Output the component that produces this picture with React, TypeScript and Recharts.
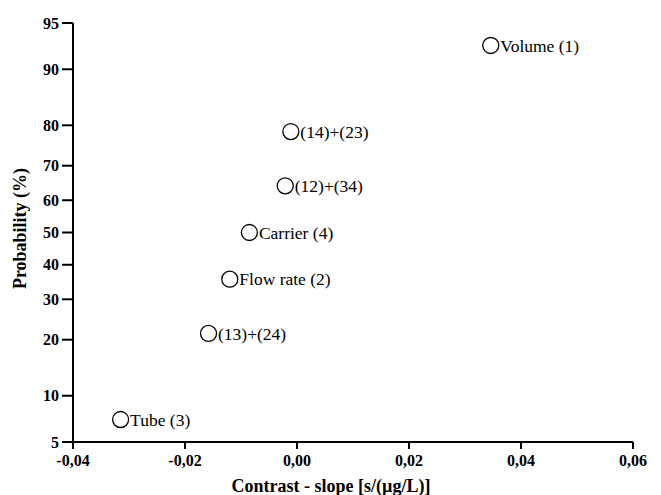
import { ScatterChart, Scatter, XAxis, YAxis, Label } from "recharts";

const effectLabels = ["Tube (3)", "(13)+(24)", "Flow rate (2)", "Carrier (4)", "(12)+(34)", "(14)+(23)", "Volume (1)"];
const effectValues = [-0.0315, -0.0158, -0.012, -0.0085, -0.0021, -0.0011, 0.0346];
const probabilities = [7.1, 21.4, 35.7, 50, 64.3, 78.6, 92.9];

const xTicks = [-0.04, -0.02, 0, 0.02, 0.04, 0.06];
const yTickLabels = [5, 10, 20, 30, 40, 50, 60, 70, 80, 90, 95];

// inverse normal cdf (Acklam) so the y axis reads as a normal probability scale
const probit = (pct: number) => {
  const p = pct / 100;
  const a = [-39.69683028665376, 220.9460984245205, -275.9285104469687, 138.357751867269, -30.66479806614716, 2.506628277459239];
  const b = [-54.47609879822406, 161.5858368580409, -155.6989798598866, 66.80131188771972, -13.28068155288572];
  const c = [-0.007784894002430293, -0.3223964580411365, -2.400758277161838, -2.549732539343734, 4.374664141464968, 2.938163982698783];
  const d = [0.007784695709041462, 0.3224671290700398, 2.445134137142996, 3.754408661907416];
  const pLow = 0.02425;
  if (p < pLow) {
    const q = Math.sqrt(-2 * Math.log(p));
    return (((((c[0] * q + c[1]) * q + c[2]) * q + c[3]) * q + c[4]) * q + c[5]) / ((((d[0] * q + d[1]) * q + d[2]) * q + d[3]) * q + 1);
  }
  if (p > 1 - pLow) {
    const q = Math.sqrt(-2 * Math.log(1 - p));
    return -(((((c[0] * q + c[1]) * q + c[2]) * q + c[3]) * q + c[4]) * q + c[5]) / ((((d[0] * q + d[1]) * q + d[2]) * q + d[3]) * q + 1);
  }
  const q = p - 0.5;
  const r = q * q;
  return ((((((a[0] * r + a[1]) * r + a[2]) * r + a[3]) * r + a[4]) * r + a[5]) * q) / (((((b[0] * r + b[1]) * r + b[2]) * r + b[3]) * r + b[4]) * r + 1);
};

const data = effectValues.map((x, i) => ({ x, y: probit(probabilities[i]), label: effectLabels[i] }));
const yTicks = yTickLabels.map(probit);

const FONT = "'Liberation Serif', 'Times New Roman', serif";

const PointShape = (props: any) => {
  const { cx, cy, payload } = props;
  return (
    <g>
      <circle cx={cx} cy={cy} r={8} fill="#fff" stroke="#000" strokeWidth={1.3} />
      <text x={cx + 9.5} y={cy} dy="0.35em" fontFamily={FONT} fontSize={17.5} fill="#000">
        {payload.label}
      </text>
    </g>
  );
};

const tickStyle = { fontFamily: FONT, fontSize: 16, fontWeight: 700, fill: "#000" };

export default function App() {
  return (
    <div style={{ position: "absolute", left: 0, top: 0, background: "#fff" }}>
      <ScatterChart width={661} height={495} margin={{ top: 23, right: 28, left: 0, bottom: 0 }}>
        <XAxis
          type="number"
          dataKey="x"
          domain={[-0.04, 0.06]}
          ticks={xTicks}
          allowDataOverflow
          tickFormatter={(v: number) => v.toFixed(2).replace(".", ",")}
          tick={tickStyle}
          tickSize={7}
          tickMargin={6}
          height={53}
          axisLine={{ stroke: "#000", strokeWidth: 2 }}
          tickLine={{ stroke: "#000", strokeWidth: 2 }}
        >
          <Label
            value="Contrast - slope [s/(µg/L)]"
            position="insideBottom"
            offset={3}
            dx={-22}
            style={{ fontFamily: FONT, fontSize: 18, fontWeight: 700, fill: "#000" }}
          />
        </XAxis>
        <YAxis
          type="number"
          dataKey="y"
          domain={[yTicks[0], yTicks[yTicks.length - 1]]}
          ticks={yTicks}
          allowDataOverflow
          tickFormatter={(_v: number, i: number) => String(yTickLabels[i])}
          tick={tickStyle}
          tickSize={11}
          tickMargin={3}
          width={73}
          axisLine={{ stroke: "#000", strokeWidth: 2 }}
          tickLine={{ stroke: "#000", strokeWidth: 2 }}
        >
          <Label
            value="Probability (%)"
            angle={-90}
            position="insideLeft"
            offset={20}
            dy={-4}
            style={{ fontFamily: FONT, fontSize: 18, fontWeight: 700, fill: "#000", textAnchor: "middle" }}
          />
        </YAxis>
        <Scatter data={data} shape={PointShape} isAnimationActive={false} />
      </ScatterChart>
    </div>
  );
}
